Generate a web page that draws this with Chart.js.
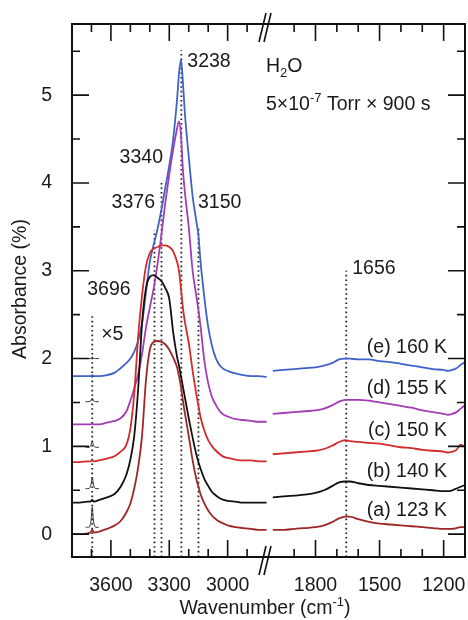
<!DOCTYPE html>
<html>
<head>
<meta charset="utf-8">
<script src="https://cdn.jsdelivr.net/npm/chart.js@4.4.1/dist/chart.umd.min.js"></script>
<style>
  html, body { margin: 0; padding: 0; background: #fff; }
  canvas { display: block; }
</style>
</head>
<body>
<canvas id="ir-chart" width="468" height="620"></canvas>
<script>
// wavenumber grids (cm-1), left panel = OH stretch, right panel = HOH bend
const wnHigh = [3800, 3760, 3720, 3705, 3696, 3687, 3660, 3620, 3580, 3550,
  3520, 3500, 3480, 3460, 3440, 3420, 3400, 3380, 3360, 3340,
  3320, 3300, 3280, 3260, 3250, 3240, 3230, 3220, 3200, 3180,
  3160, 3150, 3140, 3120, 3100, 3080, 3060, 3040, 3020, 3000,
  2960, 2920, 2880, 2840, 2800]
const wnLow = [2000, 1950, 1900, 1850, 1800, 1760, 1720, 1690, 1660, 1640,
  1600, 1550, 1500, 1450, 1400, 1350, 1300, 1250, 1200, 1180,
  1160, 1140, 1120, 1100]

// absorbance (%), spectra are offset vertically
const absA_high = [0.00, 0.00, 0.01, 0.02, 0.05, 0.02, 0.03, 0.06, 0.10, 0.15,
  0.25, 0.35, 0.52, 0.76, 1.12, 1.75, 2.10, 2.19, 2.20, 2.19,
  2.16, 2.10, 2.01, 1.90, 1.80, 1.68, 1.52, 1.38, 1.12, 0.84,
  0.62, 0.54, 0.46, 0.35, 0.27, 0.21, 0.17, 0.14, 0.12, 0.10,
  0.08, 0.07, 0.06, 0.05, 0.05]
const absB_high = [0.36, 0.36, 0.37, 0.37, 0.39, 0.37, 0.39, 0.42, 0.46, 0.54,
  0.68, 0.85, 1.12, 1.65, 2.40, 2.80, 2.93, 2.95, 2.92, 2.88,
  2.80, 2.68, 2.30, 2.02, 1.92, 1.80, 1.68, 1.56, 1.32, 1.10,
  0.90, 0.82, 0.75, 0.63, 0.55, 0.48, 0.44, 0.41, 0.39, 0.38,
  0.37, 0.36, 0.36, 0.36, 0.36]
const absC_high = [0.82, 0.82, 0.83, 0.83, 0.84, 0.83, 0.84, 0.86, 0.89, 0.94,
  1.02, 1.20, 1.60, 2.25, 2.72, 3.05, 3.20, 3.25, 3.27, 3.29,
  3.29, 3.27, 3.22, 3.10, 3.00, 2.80, 2.58, 2.42, 2.18, 1.86,
  1.58, 1.46, 1.34, 1.18, 1.07, 1.00, 0.95, 0.91, 0.88, 0.87,
  0.85, 0.84, 0.84, 0.83, 0.83]
const absD_high = [1.25, 1.25, 1.25, 1.25, 1.26, 1.25, 1.25, 1.27, 1.29, 1.32,
  1.40, 1.52, 1.66, 1.82, 2.05, 2.35, 2.58, 2.80, 3.08, 3.42,
  3.78, 4.10, 4.38, 4.62, 4.70, 4.55, 4.15, 3.90, 3.50, 3.00,
  2.70, 2.55, 2.38, 1.98, 1.72, 1.56, 1.47, 1.40, 1.36, 1.34,
  1.31, 1.30, 1.29, 1.28, 1.28]
const absE_high = [1.80, 1.80, 1.80, 1.80, 1.81, 1.80, 1.80, 1.81, 1.84, 1.89,
  1.95, 2.00, 2.08, 2.20, 2.40, 2.75, 3.10, 3.30, 3.48, 3.70,
  3.95, 4.20, 4.50, 4.95, 5.25, 5.40, 5.15, 4.80, 4.30, 3.85,
  3.55, 3.40, 3.12, 2.70, 2.36, 2.14, 2.00, 1.92, 1.88, 1.86,
  1.83, 1.81, 1.80, 1.80, 1.79]

const absA_low = [0.05, 0.05, 0.06, 0.07, 0.08, 0.10, 0.14, 0.18, 0.20, 0.20,
  0.17, 0.14, 0.12, 0.11, 0.10, 0.09, 0.08, 0.07, 0.06, 0.06,
  0.06, 0.07, 0.08, 0.08]
const absB_low = [0.42, 0.43, 0.44, 0.45, 0.47, 0.50, 0.55, 0.59, 0.60, 0.60,
  0.58, 0.56, 0.55, 0.54, 0.53, 0.52, 0.51, 0.50, 0.49, 0.49,
  0.50, 0.52, 0.54, 0.56]
const absC_low = [0.91, 0.92, 0.93, 0.94, 0.95, 0.97, 1.01, 1.05, 1.07, 1.06,
  1.05, 1.04, 1.03, 1.01, 0.99, 0.98, 0.96, 0.95, 0.94, 0.93,
  0.94, 0.96, 1.02, 0.99]
const absD_low = [1.37, 1.38, 1.39, 1.40, 1.41, 1.43, 1.47, 1.51, 1.53, 1.53,
  1.53, 1.52, 1.50, 1.48, 1.46, 1.44, 1.41, 1.39, 1.37, 1.36,
  1.37, 1.39, 1.43, 1.47]
const absE_low = [1.86, 1.87, 1.88, 1.89, 1.90, 1.92, 1.95, 1.99, 2.00, 2.00,
  1.99, 1.99, 1.97, 1.96, 1.94, 1.92, 1.90, 1.88, 1.87, 1.86,
  1.87, 1.89, 1.93, 1.96]

// x5 magnified free-OH band at 3696 cm-1
const insetWn = [3730, 3712, 3703, 3696, 3689, 3680, 3662]
const insetA = [0.08, 0.08, 0.14, 0.31, 0.14, 0.08, 0.08]
const insetB = [0.52, 0.52, 0.56, 0.65, 0.56, 0.52, 0.52]
const insetC = [0.99, 0.99, 1.01, 1.06, 1.01, 0.99, 0.99]
const insetD = [1.51, 1.51, 1.52, 1.55, 1.52, 1.51, 1.51]
const insetE = [2.00, 2.00, 2.00, 2.02, 2.00, 2.00, 2.00]

// dotted peak markers
const markerWn = [3696, 3376, 3340, 3238, 3150]
const markerTop = [2.50, 3.46, 4.00, 5.51, 3.50]
const bendWn = [1656]
const bendTop = [3.00]

const sampleLabels = ["(a) 123 K", "(b) 140 K", "(c) 150 K", "(d) 155 K", "(e) 160 K"]

// tick positions (labels only on the multiples of 300 / whole numbers)
const xTicksHigh = [3700, 3600, 3500, 3400, 3300, 3200, 3100, 3000, 2900]
const xTicksLow = [1900, 1800, 1700, 1600, 1500, 1400, 1300, 1200]
const xLabels = [3600, 3300, 3000, 1800, 1500, 1200]
const yTicksAll = [0, 0.5, 1, 1.5, 2, 2.5, 3, 3.5, 4, 4.5, 5, 5.5]
const yLabels = [0, 1, 2, 3, 4, 5]

const FONT = "'Liberation Sans', Arial, Helvetica, sans-serif"
const sampleColors = ["#9e2626", "#111111", "#d42a2a", "#a23db3", "#3f62c8"]
const highSets = [absA_high, absB_high, absC_high, absD_high, absE_high]
const lowSets = [absA_low, absB_low, absC_low, absD_low, absE_low]
const insetSets = [insetA, insetB, insetC, insetD, insetE]

function toPoints(xs, ys) {
  return xs.map((x, i) => ({ x: x, y: ys[i] }))
}

const datasets = []

// spectra, two pieces each (one per panel)
highSets.forEach((vals, i) => {
  datasets.push({
    label: sampleLabels[i],
    data: toPoints(wnHigh, vals),
    xAxisID: "x1",
    borderColor: sampleColors[i],
    borderWidth: 1.8,
    cubicInterpolationMode: "monotone",
  })
  datasets.push({
    label: sampleLabels[i] + " bend",
    data: toPoints(wnLow, lowSets[i]),
    xAxisID: "x2",
    borderColor: sampleColors[i],
    borderWidth: 1.8,
    cubicInterpolationMode: "monotone",
  })
  datasets.push({
    label: sampleLabels[i] + " x5",
    data: toPoints(insetWn, insetSets[i]),
    xAxisID: "x1",
    borderColor: "#333",
    borderWidth: 1,
    tension: 0.3,
  })
})

// vertical dotted lines
const yMin = -0.26
const yMax = 5.81
markerWn.forEach((wn, i) => {
  datasets.push({
    label: "m" + wn,
    data: [{ x: wn, y: yMin }, { x: wn, y: markerTop[i] }],
    xAxisID: "x1",
    borderColor: "#222",
    borderWidth: 1.8,
    borderDash: [1.6, 3],
  })
})
bendWn.forEach((wn, i) => {
  datasets.push({
    label: "m" + wn,
    data: [{ x: wn, y: yMin }, { x: wn, y: bendTop[i] }],
    xAxisID: "x2",
    borderColor: "#222",
    borderWidth: 1.8,
    borderDash: [1.6, 3],
  })
})

// draw a run of [text, size, dy] pieces
function drawRich(ctx, parts, x, y, align) {
  let w = 0
  parts.forEach((p) => {
    ctx.font = p[1] + "px " + FONT
    w += ctx.measureText(p[0]).width
  })
  let cx = align === "right" ? x - w : align === "center" ? x - w / 2 : x
  ctx.textAlign = "left"
  ctx.textBaseline = "middle"
  parts.forEach((p) => {
    ctx.font = p[1] + "px " + FONT
    ctx.fillText(p[0], cx, y + p[2])
    cx += ctx.measureText(p[0]).width
  })
}

const frameAndText = {
  id: "frameAndText",
  afterDraw(chart) {
    const ctx = chart.ctx
    const { left, right, top, bottom } = chart.chartArea
    const x1 = chart.scales.x1
    const x2 = chart.scales.x2
    const y = chart.scales.y
    const breakX = x1.right

    ctx.save()
    ctx.strokeStyle = "#111"
    ctx.fillStyle = "#1a1a1a"

    // inward ticks on all four sides
    ctx.lineWidth = 1.6
    ctx.beginPath()
    yTicksAll.forEach((v) => {
      const len = yLabels.includes(v) ? 17 : 8
      const py = y.getPixelForValue(v)
      ctx.moveTo(left, py)
      ctx.lineTo(left + len, py)
      ctx.moveTo(right, py)
      ctx.lineTo(right - len, py)
    })
    ;[[x1, xTicksHigh], [x2, xTicksLow]].forEach(([sc, vals]) => {
      vals.forEach((v) => {
        const px = sc.getPixelForValue(v)
        const len = xLabels.includes(v) ? 17 : 8
        ctx.moveTo(px, bottom)
        ctx.lineTo(px, bottom - len)
        ctx.moveTo(px, top)
        ctx.lineTo(px, top + len)
      })
    })
    ctx.stroke()

    // frame
    ctx.lineWidth = 2
    ctx.strokeRect(left, top, right - left, bottom - top)

    // axis break marks
    ctx.lineWidth = 1.6
    ctx.beginPath()
    ;[top, bottom].forEach((ay) => {
      ;[-6, -1].forEach((dx) => {
        ctx.moveTo(breakX + dx - 3.5, ay + 18)
        ctx.lineTo(breakX + dx + 3.5, ay - 11)
      })
    })
    ctx.stroke()

    // axis titles
    drawRich(ctx, [["Wavenumber (cm", 19.5, 0], ["-1", 13, -7], [")", 19.5, 0]], 265, 609, "center")
    ctx.save()
    ctx.translate(21, 289)
    ctx.rotate(-Math.PI / 2)
    drawRich(ctx, [["Absorbance (%)", 19.5, 0]], 0, 0, "center")
    ctx.restore()

    // peak labels
    const px1 = (v) => x1.getPixelForValue(v)
    const px2 = (v) => x2.getPixelForValue(v)
    const py = (v) => y.getPixelForValue(v)
    drawRich(ctx, [["3696", 19.5, 0]], px1(3696) - 5, py(2.78), "left")
    drawRich(ctx, [["×5", 19.5, 0]], px1(3696) + 9, py(2.27), "left")
    drawRich(ctx, [["3376", 19.5, 0]], px1(3376) + 0.5, py(3.78), "right")
    drawRich(ctx, [["3340", 19.5, 0]], px1(3340) + 1.5, py(4.29), "right")
    drawRich(ctx, [["3238", 19.5, 0]], px1(3238) + 6, py(5.38), "left")
    drawRich(ctx, [["3150", 19.5, 0]], px1(3150) - 0.5, py(3.78), "left")
    drawRich(ctx, [["1656", 19.5, 0]], px2(1656) + 6, py(3.02), "left")

    // sample labels
    const labelY = [0.27, 0.71, 1.18, 1.66, 2.13]
    sampleLabels.forEach((s, i) => {
      drawRich(ctx, [[s, 19.5, 0]], px2(1184), py(labelY[i]), "right")
    })

    // exposure note
    drawRich(ctx, [["H", 19.5, 0], ["2", 13, 6], ["O", 19.5, 0]], 266, 67, "left")
    drawRich(ctx, [["5×10", 19.5, 0], ["-7", 13, -7], [" Torr × 900 s", 19.5, 0]], 266, 105, "left")

    ctx.restore()
  },
}

const tickFont = { family: FONT, size: 19.5 }

function xScale(min, max, tickVals) {
  return {
    type: "linear",
    position: "bottom",
    stack: "wn",
    stackWeight: 1,
    reverse: true,
    min: min,
    max: max,
    afterBuildTicks: (s) => {
      s.ticks = tickVals.map((v) => ({ value: v }))
    },
    afterFit: (s) => {
      s.height = 63
      s.paddingLeft = 0
      s.paddingRight = 0
    },
    grid: { display: false, drawTicks: false },
    border: { display: false },
    ticks: {
      autoSkip: false,
      maxRotation: 0,
      minRotation: 0,
      padding: 17,
      color: "#1a1a1a",
      font: tickFont,
      callback: (v) => (xLabels.includes(v) ? String(v) : ""),
    },
  }
}

new Chart(document.getElementById("ir-chart"), {
  type: "line",
  data: { datasets: datasets },
  options: {
    responsive: false,
    animation: false,
    events: [],
    layout: { padding: { top: 24, right: 3, left: 0, bottom: 0 } },
    elements: { point: { radius: 0 }, line: { fill: false } },
    plugins: {
      legend: { display: false },
      tooltip: { enabled: false },
    },
    scales: {
      x1: xScale(2790, 3800, xTicksHigh),
      x2: xScale(1100, 2020, xTicksLow),
      y: {
        type: "linear",
        position: "left",
        min: yMin,
        max: yMax,
        afterBuildTicks: (s) => {
          s.ticks = yTicksAll.map((v) => ({ value: v }))
        },
        afterFit: (s) => {
          s.width = 72
          s.paddingTop = 0
          s.paddingBottom = 0
        },
        grid: { display: false, drawTicks: false },
        border: { display: false },
        ticks: {
          padding: 20,
          color: "#1a1a1a",
          font: tickFont,
          callback: (v) => (yLabels.includes(v) ? String(v) : ""),
        },
      },
    },
  },
  plugins: [frameAndText],
})
</script>
</body>
</html>
